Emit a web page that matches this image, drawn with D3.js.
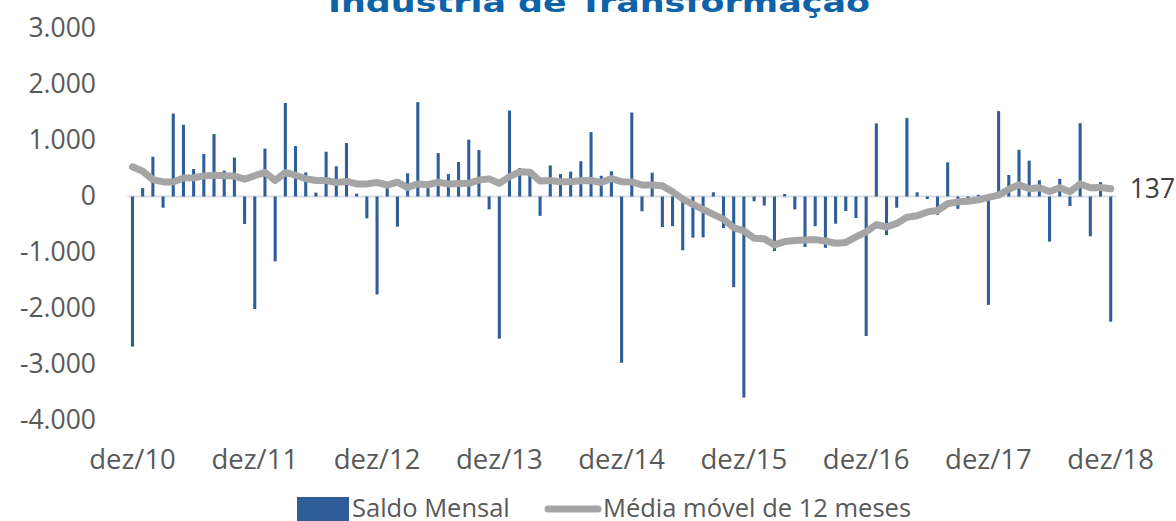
<!DOCTYPE html>
<html>
<head>
<meta charset="utf-8">
<script src="https://cdn.jsdelivr.net/npm/d3@7"></script>
<style>
  body { margin: 0; background: #fff; }
  text { font-family: "Open Sans", "Noto Sans", sans-serif; }
</style>
</head>
<body>
<div id="container"></div>
<script>
// Saldo mensal (dez/10 .. dez/18)
const saldo = [
  -2680, 150, 710, -200, 1480, 1280, 490, 760, 1115, 460, 695, -490, -2010, 855,
  -1160, 1670, 900, 430, 70, 800, 540, 955, 50, -390, -1750, 150, -540, 415,
  1685, 150, 775, 400, 615, 1015, 830, -230, -2540, 1535, 510, 380, -345, 555,
  400, 445, 630, 1150, 370, 450, -2970, 1500, -265, 425, -545, -530, -960,
  -735, -730, 75, -565, -1620, -3590, -85, -160, -975, 45, -230, -900, -530, -915,
  -485, -260, -385, -2490, 1305, -690, -200, 1400, 75, -45, -325, 610, -220,
  -30, 30, -1935, 1525, 385, 835, 640, 290, -805, 315, -170, 1310, -710, 255, -2235
];

// Média móvel de 12 meses
const media = [
  530, 450, 300, 260, 260, 330, 335, 365, 380, 370, 365, 310, 370, 430,
  285, 430, 380, 320, 285, 285, 250, 270, 225, 225, 250, 205, 255, 160,
  225, 210, 255, 225, 230, 235, 295, 315, 235, 355, 440, 435, 275, 285,
  265, 265, 280, 285, 250, 320, 265, 260, 205, 205, 190, 85, -45,
  -140, -230, -320, -405, -555, -615, -745, -755, -865, -805, -785, -775, -770, -795,
  -835, -820, -720, -630, -500, -545, -480, -370, -345, -275, -250, -130, -95,
  -85, -60, -15, 25, 130, 210, 140, 155, 90, 155, 85, 225, 155, 160, 137
];

const anos = ["10", "11", "12", "13", "14", "15", "16", "17", "18"];
const yTicks = [3000, 2000, 1000, 0, -1000, -2000, -3000, -4000];

const idx = d3.range(saldo.length);
const ticksX = anos.map((a, i) => i * 12);

const width = 1176, height = 521;

const svg = d3.select("#container").append("svg")
    .attr("width", width)
    .attr("height", height);

const x = d3.scaleBand()
    .domain(idx)
    .range([127.4, 1115.8])
    .paddingInner(0.7)
    .paddingOuter(0.35);

const y = d3.scaleLinear()
    .domain([-4000, 3000])
    .range([420.5, 28.5]);

const fmt = d => d3.format(",")(d).replace(/,/g, ".").replace("−", "-");

// title (cut at the top, as in the original)
svg.append("text")
    .attr("x", 599)
    .attr("y", 12)
    .attr("text-anchor", "middle")
    .style("font-family", "'DejaVu Sans', Verdana, sans-serif")
    .style("font-weight", "bold")
    .style("font-size", "27px")
    .style("fill", "#0e62a8")
    .attr("textLength", 542)
    .attr("lengthAdjust", "spacingAndGlyphs")
    .text("Indústria de Transformação");

// Y axis (labels only)
const yAxis = svg.append("g")
    .attr("transform", "translate(96,0)")
    .call(d3.axisLeft(y).tickValues(yTicks).tickSize(0).tickPadding(0).tickFormat(fmt));
yAxis.select(".domain").remove();
yAxis.selectAll("text")
    .style("font-size", "26.5px")
    .style("fill", "#595959")
    .style("font-family", "'Open Sans', sans-serif");

// zero line
svg.append("line")
    .attr("x1", 127.4)
    .attr("x2", 1115.8)
    .attr("y1", y(0))
    .attr("y2", y(0))
    .style("stroke", "#d9dde4")
    .style("stroke-width", 2);

// bars
svg.selectAll(".bar")
    .data(saldo)
    .enter().append("rect")
    .attr("class", "bar")
    .attr("x", (d, i) => x(i))
    .attr("width", x.bandwidth())
    .attr("y", d => y(Math.max(0, d)))
    .attr("height", d => Math.abs(y(d) - y(0)))
    .style("fill", "#2e5d99");

// moving average
const line = d3.line()
    .x((d, i) => x(i) + x.bandwidth() / 2)
    .y(d => y(d));

svg.append("path")
    .datum(media)
    .attr("d", line)
    .style("fill", "none")
    .style("stroke", "#a5a5a5")
    .style("stroke-width", 7)
    .style("stroke-linejoin", "round")
    .style("stroke-linecap", "round");

// last value label
svg.append("text")
    .attr("x", x(media.length - 1) + x.bandwidth() / 2 + 19)
    .attr("y", y(media[media.length - 1]))
    .attr("dy", "0.35em")
    .style("font-size", "26.5px")
    .style("fill", "#404040")
    .text(media[media.length - 1]);

// X axis labels
const xAxis = svg.append("g")
    .attr("transform", "translate(0,449)")
    .call(d3.axisBottom(x).tickValues(ticksX).tickSize(0).tickPadding(0)
        .tickFormat(i => "dez/" + anos[i / 12]));
xAxis.select(".domain").remove();
xAxis.selectAll("text")
    .style("font-size", "27.5px")
    .style("fill", "#595959")
    .style("font-family", "'Open Sans', sans-serif");

// legend
const legend = svg.append("g");
legend.append("rect")
    .attr("x", 297)
    .attr("y", 497)
    .attr("width", 52)
    .attr("height", 26)
    .style("fill", "#2e5d99");
legend.append("text")
    .attr("x", 352)
    .attr("y", 508)
    .attr("dy", "0.35em")
    .style("font-size", "25.5px")
    .style("fill", "#595959")
    .text("Saldo Mensal");
legend.append("line")
    .attr("x1", 548)
    .attr("x2", 598)
    .attr("y1", 509)
    .attr("y2", 509)
    .style("stroke", "#a5a5a5")
    .style("stroke-width", 7)
    .style("stroke-linecap", "round");
legend.append("text")
    .attr("x", 603)
    .attr("y", 508)
    .attr("dy", "0.35em")
    .style("font-size", "25.5px")
    .style("fill", "#595959")
    .text("Média móvel de 12 meses");
</script>
</body>
</html>
